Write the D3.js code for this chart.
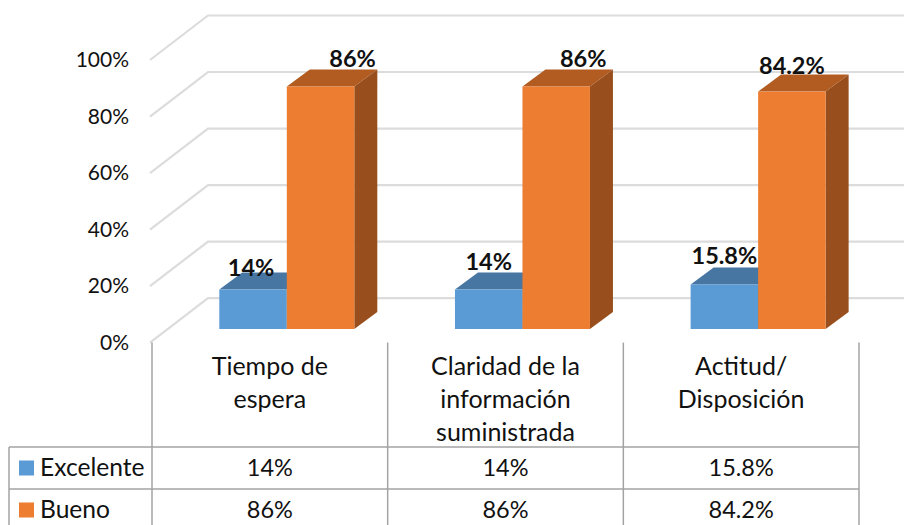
<!DOCTYPE html>
<html><head><meta charset="utf-8">
<script src="https://cdn.jsdelivr.net/npm/d3@7/dist/d3.min.js"></script>
<style>html,body{margin:0;padding:0;background:#fff}svg{display:block}text{font-family:Lato,"Open Sans",sans-serif;fill:#111}</style>
</head><body><svg id="c" width="904" height="525"></svg>
<script>
const categories=[["Tiempo de","espera"],["Claridad de la","información","suministrada"],["Actitud/","Disposición"]];
const seriesNames=["Excelente","Bueno"];
const excelente=[14,14,15.8];
const bueno=[86,86,84.2];
const yTicks=[0,20,40,60,80,100];
const fmt=v=>v+"%";

const W=904,H=525,svg=d3.select("#c");
const front={l:152,r:859,b:342.6,t:60};
const wall={dx:58,dy:44.5};
const yFront=d3.scaleLinear().domain([0,100]).range([front.b,front.t]);
const yBar=d3.scaleLinear().domain([0,100]).range([329,47]);
const xBand=d3.scaleBand().domain(d3.range(categories.length)).range([front.l,front.r]);
const xSeries=d3.scaleBand().domain([0,1]).range([67.3,202.3]);
const colors=[{f:"#5B9BD5",t:"#4776A3",s:"#41719C"},{f:"#ED7D31",t:"#B25C22",s:"#994F1D"}];
const depth={dx:23,dy:17};

// gridlines
const g=svg.append("g").attr("fill","none").attr("stroke","#DCDCDC").attr("stroke-width",2.2);
yTicks.forEach(t=>{
  const p=d3.path();
  p.moveTo(front.l-2,yFront(t));
  p.lineTo(front.l-2+wall.dx,yFront(t)-wall.dy);
  p.lineTo(W,yFront(t)-wall.dy);
  g.append("path").attr("d",p.toString());
});

// y labels
svg.append("g").selectAll("text").data(yTicks).join("text")
  .attr("x",129).attr("y",d=>yFront(d)+7).attr("text-anchor","end")
  .attr("font-size",21).text(fmt);

// bars
function bar(sel,cat,ser,v){
  const x0=xBand(cat)+xSeries(ser),x1=x0+xSeries.bandwidth();
  const y0=yBar(0),y1=yBar(v);
  const c=colors[ser];
  const poly=pts=>sel.append("polygon").attr("points",pts.map(p=>p.join(",")).join(" "));
  poly([[x0,y1],[x0+depth.dx,y1-depth.dy],[x1+depth.dx,y1-depth.dy],[x1,y1]]).attr("fill",c.t);
  poly([[x1,y1],[x1+depth.dx,y1-depth.dy],[x1+depth.dx,y0-depth.dy],[x1,y0]]).attr("fill",c.s);
  sel.append("rect").attr("x",x0).attr("y",y1).attr("width",x1-x0).attr("height",y0-y1).attr("fill",c.f);
}
const bars=svg.append("g");
[excelente,bueno].forEach((vals,s)=>vals.forEach((v,i)=>bar(bars.append("g"),i,s,v)));

// data labels (manually placed in the original chart)
const labelNudgeX=[[-2,0,0],[32,27,0]];
const labelNudgeY=[[-14,-20,-20],[-19,-19,-18]];
const labels=svg.append("g");
[excelente,bueno].forEach((vals,s)=>vals.forEach((v,i)=>{
  labels.append("text")
   .attr("x",xBand(i)+xSeries(s)+xSeries.bandwidth()/2+labelNudgeX[s][i])
   .attr("y",yBar(v)+labelNudgeY[s][i])
   .attr("text-anchor","middle").attr("font-size",23.5).attr("font-weight",700).attr("fill","#000").text(fmt(v));
}));

// table
const rowY=[447,489,531],tableLeft=9;
const t=svg.append("g").attr("stroke","#A3A3A3").attr("stroke-width",1.5);
xBand.domain().concat([categories.length]).forEach(i=>{
  const x=i<categories.length?xBand(i):front.r;
  t.append("line").attr("x1",x).attr("x2",x).attr("y1",front.b).attr("y2",H);
});
t.append("line").attr("x1",tableLeft).attr("x2",tableLeft).attr("y1",rowY[0]).attr("y2",H);
rowY.slice(0,2).forEach(y=>t.append("line").attr("x1",tableLeft).attr("x2",front.r).attr("y1",y).attr("y2",y));

// category labels
categories.forEach((lines,i)=>{
  const cx=xBand(i)+xBand.bandwidth()/2;
  lines.forEach((s,j)=>svg.append("text").attr("x",cx).attr("y",375+j*33).attr("text-anchor","middle").attr("font-size",25).text(s));
});

// table rows
[excelente,bueno].forEach((vals,s)=>{
  const base=rowY[s]+29;
  svg.append("rect").attr("x",19).attr("y",rowY[s]+13.5).attr("width",15).attr("height",15).attr("fill",colors[s].f);
  svg.append("text").attr("x",40).attr("y",base).attr("font-size",24.6).text(seriesNames[s]);
  vals.forEach((v,i)=>svg.append("text").attr("x",xBand(i)+xBand.bandwidth()/2).attr("y",base).attr("text-anchor","middle").attr("font-size",23.5).text(fmt(v)));
});
</script></body></html>
